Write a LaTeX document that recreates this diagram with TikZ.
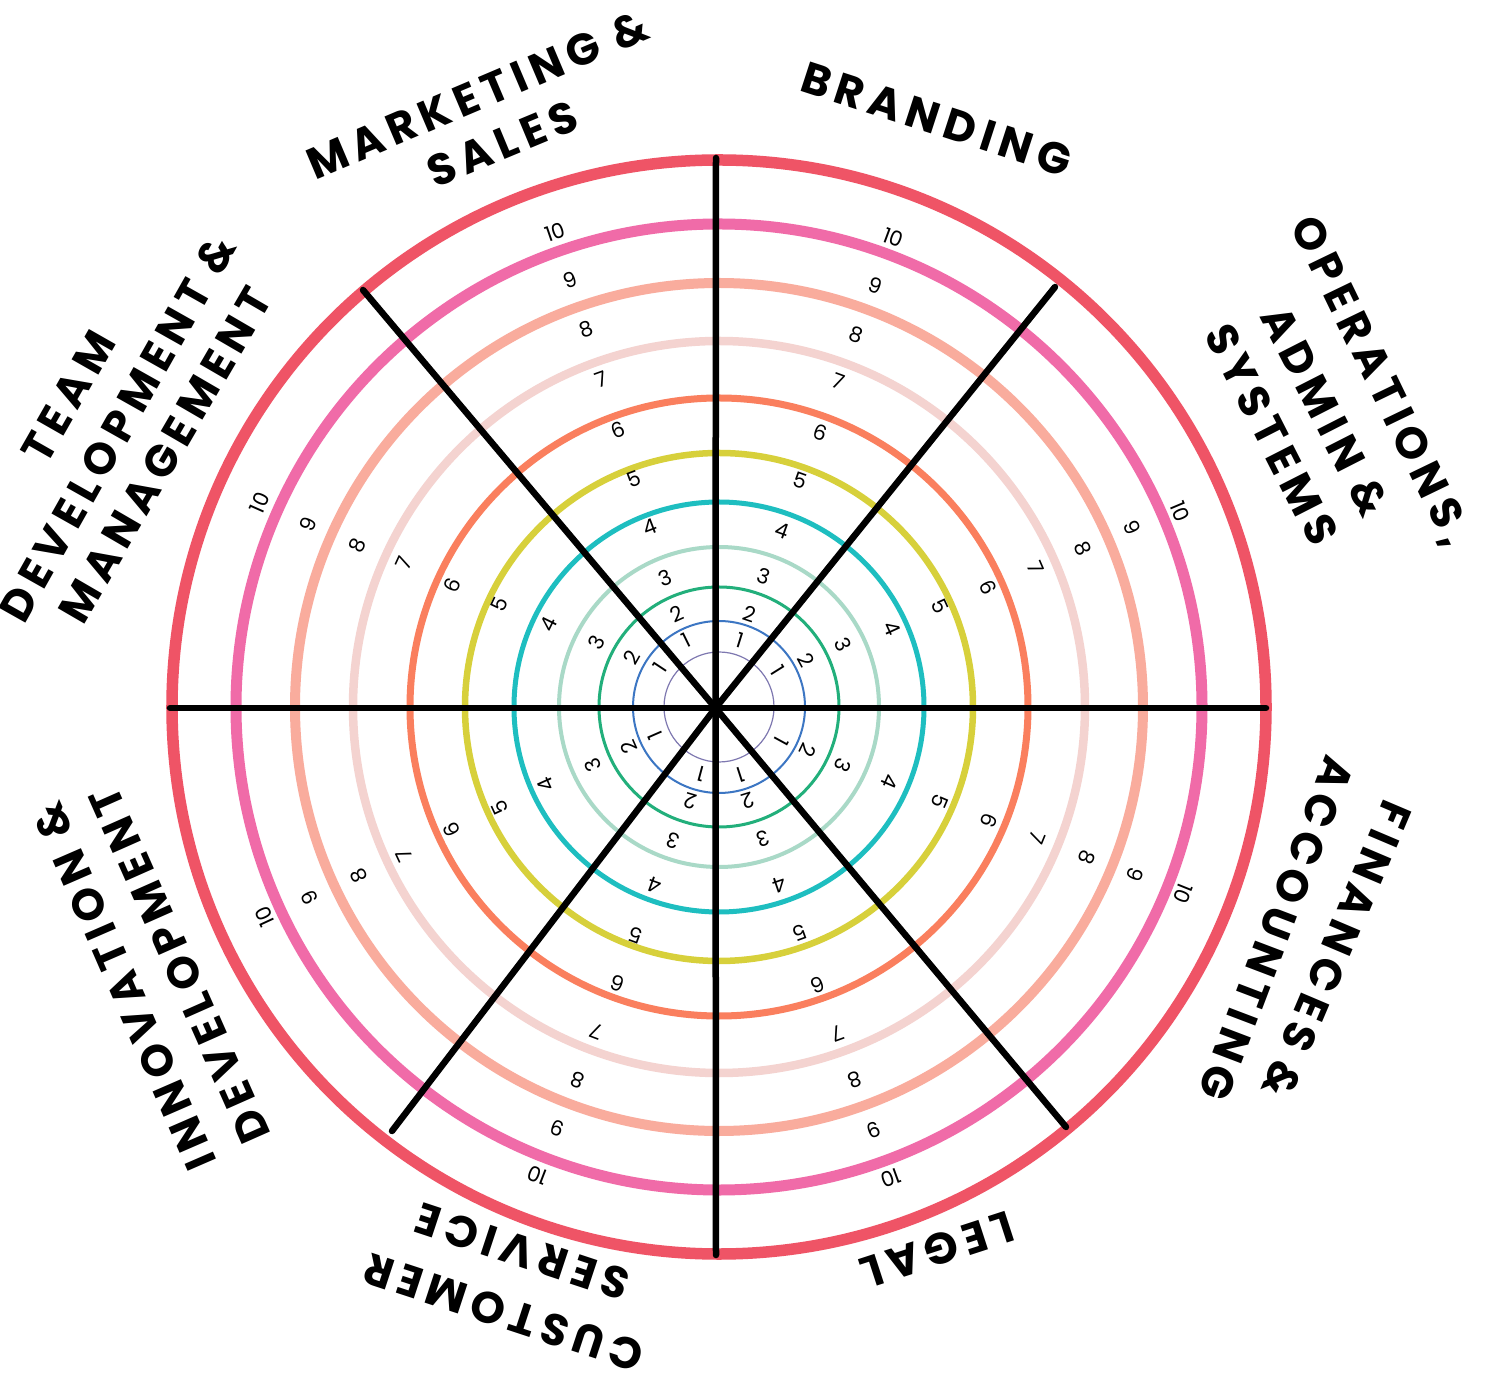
\documentclass[tikz,border=0pt]{standalone}
\usepackage{fontspec}
\newfontfamily\catfont{Poppins}[LetterSpace=15]
\newfontfamily\numfont{Poppins}
% ring colours, outermost first
\definecolor{ringA}{HTML}{EF5466}
\definecolor{ringB}{HTML}{F06BA8}
\definecolor{ringC}{HTML}{F9AC9D}
\definecolor{ringD}{HTML}{F4D3D0}
\definecolor{ringE}{HTML}{FA7F5E}
\definecolor{ringF}{HTML}{D7D03B}
\definecolor{ringG}{HTML}{1EBEC0}
\definecolor{ringH}{HTML}{A9D9C7}
\definecolor{ringI}{HTML}{22AF7B}
\definecolor{ringJ}{HTML}{3C76C3}
\definecolor{ringK}{HTML}{7E78B0}
\tikzset{
  ring/.style={draw=#1},
  spoke/.style={draw=black, line width=3.25pt, line cap=round},
  cat/.style={font=\catfont\bfseries\fontsize{22}{26}\selectfont, inner sep=0pt,
    text height=15.4pt, text depth=0pt, anchor=center},
  num/.style={font=\numfont\fontsize{10.5}{12}\selectfont, inner sep=0pt,
    text height=7.4pt, text depth=0pt},
}
% score label: sector tag, value, x and y measured from the upper left corner
\newcommand\ringnum[4]{%
  \pgfmathsetmacro\rnx{#3-719}%
  \pgfmathsetmacro\rny{707-#4}%
  \pgfmathsetmacro\rnrot{atan2(\rny,\rnx)-90}%
  \node[num, rotate=\rnrot] (n-#1-#2) at (\rnx,\rny) {#2};
}
\begin{document}
\begin{tikzpicture}[x=0.5pt,y=0.5pt]
\fill[white] (-719,-667) rectangle (767,707);
\useasboundingbox (-719,-667) rectangle (767,707);

% concentric score rings
\draw[ring=ringA, line width=5.75pt] (0,0) circle[radius=547];
\draw[ring=ringB, line width=5.5pt]  (0,0) circle[radius=483];
\draw[ring=ringC, line width=5pt]    (0,0) circle[radius=424];
\draw[ring=ringD, line width=4.25pt] (0,0) circle[radius=366];
\draw[ring=ringE, line width=3.5pt]  (0,0) circle[radius=309];
\draw[ring=ringF, line width=3.25pt] (0,0) circle[radius=254];
\draw[ring=ringG, line width=2.5pt]  (0,0) circle[radius=205];
\draw[ring=ringH, line width=2pt]    (0,0) circle[radius=160];
\draw[ring=ringI, line width=1.5pt]  (0,0) circle[radius=120];
\draw[ring=ringJ, line width=1pt]    (0,0) circle[radius=86];
\draw[ring=ringK, line width=0.6pt]  (0,0) circle[radius=55];

% spokes dividing the eight areas
\coordinate (hub) at (-3.5,-1);
\coordinate (eN)  at (-3,549);
\coordinate (eS)  at (-3,-548);
\coordinate (eW)  at (-549,-1);
\coordinate (eE)  at (547,-1);
\coordinate (eNW) at (-356,417);
\coordinate (eNE) at (336,420);
\coordinate (eSE) at (347,-420);
\coordinate (eSW) at (-327,-424);
\foreach \e in {eN,eS,eW,eE,eNW,eNE,eSE,eSW}
  \draw[spoke] (hub) -- (\e);

% score numbers in each area
\foreach \k/\X/\Y in {1/778/670,2/806/660,3/843/645,4/892/628,5/940/606,6/988/588,7/1036/568,8/1083/549,9/1132/528,10/1180/512}
  {\ringnum{op}{\k}{\X}{\Y}}
\foreach \k/\X/\Y in {1/740/640,2/750/614,3/764/577,4/782/531,5/800/481,6/820/433,7/838/382,8/856/335,9/875/286,10/893/238}
  {\ringnum{br}{\k}{\X}{\Y}}
\foreach \k/\X/\Y in {1/686/640,2/677/614,3/665/578,4/650/527,5/634/479,6/618/430,7/601/380,8/586/329,9/570/280,10/555/232}
  {\ringnum{mk}{\k}{\X}{\Y}}
\foreach \k/\X/\Y in {1/660/668,2/632/658,3/597/643,4/549/624,5/500/604,6/453/585,7/404/563,8/357/545,9/308/524,10/260/503}
  {\ringnum{tm}{\k}{\X}{\Y}}
\foreach \k/\X/\Y in {1/655/735,2/629/747,3/593/765,4/546/785,5/500/808,6/452/830,7/404/855,8/359/876,9/310/898,10/265/917}
  {\ringnum{iv}{\k}{\X}{\Y}}
\foreach \k/\X/\Y in {1/701/774,2/691/801,3/673/840,4/655/885,5/636/935,6/618/983,7/597/1031,8/578/1080,9/558/1128,10/538/1175}
  {\ringnum{cs}{\k}{\X}{\Y}}
\foreach \k/\X/\Y in {1/741/775,2/748/800,3/763/838,4/780/885,5/800/933,6/818/985,7/838/1033,8/855/1080,9/874/1130,10/891/1178}
  {\ringnum{lg}{\k}{\X}{\Y}}
\foreach \k/\X/\Y in {1/781/741,2/808/750,3/843/765,4/890/782,5/940/801,6/989/821,7/1037/838,8/1087/857,9/1135/874,10/1183/893}
  {\ringnum{fn}{\k}{\X}{\Y}}

% area titles
\node[cat, rotate=23]    (mk1) at (-241.5,612)  {MARKETING \&};
\node[cat, rotate=22.6]  (mk2) at (-216.5,563)  {SALES};
\node[cat, rotate=-18]   (br1) at (217.5,587.5) {BRANDING};
\node[cat, rotate=-64.2] (op1) at (663,326)     {OPERATIONS,};
\node[cat, rotate=-63]   (op2) at (606,295.5)   {ADMIN \&};
\node[cat, rotate=-63]   (op3) at (552.5,272)   {SYSTEMS};
\node[cat, rotate=60.3]  (tm1) at (-650.5,310)  {TEAM};
\node[cat, rotate=60.6]  (tm2) at (-601,278.5)  {DEVELOPMENT \&};
\node[cat, rotate=59.8]  (tm3) at (-553.5,252)  {MANAGEMENT};
\node[cat, rotate=113.5] (iv1) at (-594.5,-279.5) {INNOVATION \&};
\node[cat, rotate=113.9] (iv2) at (-539,-258)   {DEVELOPMENT};
\node[cat, rotate=161.8] (cs1) at (-215.5,-605.5) {CUSTOMER};
\node[cat, rotate=161.7] (cs2) at (-197,-544.5) {SERVICE};
\node[cat, rotate=198]   (lg1) at (218.5,-543)  {LEGAL};
\node[cat, rotate=247]   (fn1) at (617.5,-243)  {FINANCES \&};
\node[cat, rotate=249.2] (fn2) at (557.5,-221.5) {ACCOUNTING};
\end{tikzpicture}
\end{document}
